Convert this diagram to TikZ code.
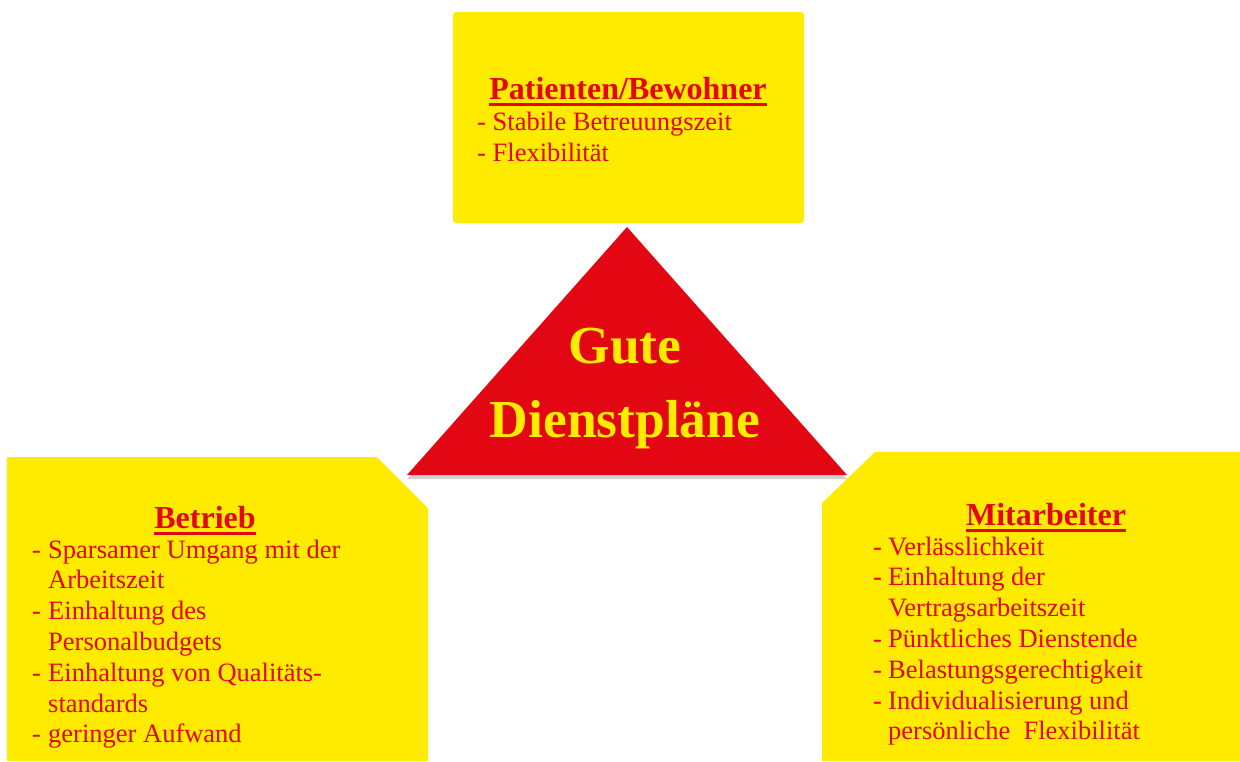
\documentclass[tikz,border=0pt]{standalone}
\usepackage{fontspec}
\setmainfont{Liberation Serif}
\usetikzlibrary{shadows}
\definecolor{boxyellow}{HTML}{FEEB00}
\definecolor{textred}{HTML}{E30613}
\begin{document}
\begin{tikzpicture}[x=1pt,y=-1pt,
  body/.style={anchor=base west,inner sep=0pt,text=textred,font=\fontsize{26.5}{31}\selectfont},
  head/.style={anchor=base,inner sep=0pt,text=textred,font=\fontsize{32}{38}\selectfont\bfseries},
  tritext/.style={anchor=base,inner sep=0pt,text=boxyellow,font=\fontsize{53.5}{64}\selectfont\bfseries},
  ulline/.style={draw=textred,line width=3pt}]
\useasboundingbox (0,0) rectangle (1240,761);
% yellow boxes
\fill[boxyellow,rounded corners=3pt] (453,12) rectangle (804,223);
\fill[boxyellow] (7,761) -- (7,457) -- (377,457) -- (428,508) -- (428,761) -- cycle;
\fill[boxyellow] (822,761) -- (822,503) -- (875,452) -- (1240,452) -- (1240,761) -- cycle;
% triangle
\fill[textred,drop shadow={shadow xshift=0pt,shadow yshift=-4pt,opacity=.3,fill=black!60}] (627,227) -- (847,475) -- (407,475) -- cycle;
\node[tritext] (gute) at (625,363) {Gute};
\node[tritext] (dplan) at (625,437) {Dienstpläne};
% top box
\node[head] (ptitle) at (628,99) {Patienten/Bewohner};
\draw[ulline] ([yshift=-5pt]ptitle.base west) -- ([yshift=-5pt]ptitle.base east);
\foreach \i/\txt in {0/Stabile Betreuungszeit,1/Flexibilität}{\node[body] (pd\i) at (477,{130+\i*31}) {- \txt};}
% left box
\node[head] (btitle) at (205,528) {Betrieb};
\draw[ulline] ([yshift=-5pt]btitle.base west) -- ([yshift=-5pt]btitle.base east);
\foreach \i in {0,2,4,6}{\node[body] (bd\i) at (32,{558+\i*30.8}) {-};}
\foreach \i/\txt in {0/Sparsamer Umgang mit der,1/Arbeitszeit,2/Einhaltung des,3/Personalbudgets,4/Einhaltung von Qualitäts-,5/standards,6/geringer Aufwand}{\node[body] (bl\i) at (48,{558+\i*30.8}) {\txt};}
% right box
\node[head] (mtitle) at (1046,525) {Mitarbeiter};
\draw[ulline] ([yshift=-5pt]mtitle.base west) -- ([yshift=-5pt]mtitle.base east);
\foreach \i in {0,1,3,4,5}{\node[body] (md\i) at (873,{555+\i*30.8}) {-};}
\foreach \i/\txt in {0/Verlässlichkeit,1/Einhaltung der,2/Vertragsarbeitszeit,3/Pünktliches Dienstende,4/Belastungsgerechtigkeit,5/Individualisierung und,6/persönliche\ \ Flexibilität}{\node[body] (ml\i) at (888,{555+\i*30.8}) {\txt};}
\end{tikzpicture}
\end{document}
